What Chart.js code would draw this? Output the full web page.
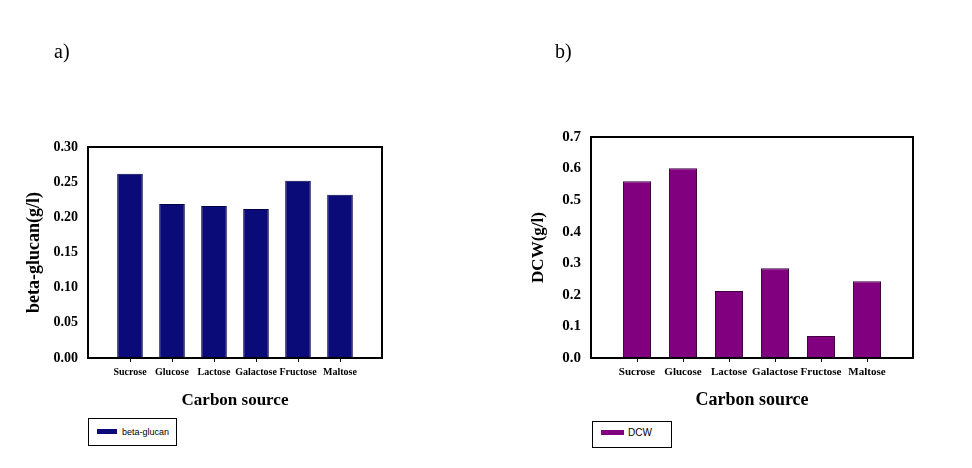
<!DOCTYPE html>
<html lang="en">
<head>
    <meta charset="UTF-8">
    <title>Carbon source: beta-glucan and DCW</title>
    <script src="https://cdn.jsdelivr.net/npm/chart.js"></script>
    <style>
        body { margin: 0; background: #fff; }
        .page { position: relative; width: 972px; height: 468px; overflow: hidden; }
        .panel { position: absolute; top: 0; width: 486px; height: 468px; }
        .tag { position: absolute; top: 40px; font: 20px "Liberation Serif", serif; color: #000; }
        .legend { position: absolute; border: 1px solid #000; box-sizing: border-box; background: #fff;
                  font: 9px "Liberation Sans", Arial, sans-serif; color: #000; }
        .legend .sw { position: absolute; height: 5px; }
        .legend span { position: absolute; white-space: nowrap; }
    </style>
</head>
<body>
<div class="page">
    <div class="panel" style="left:0"><canvas id="chartA"></canvas></div>
    <div class="panel" style="left:486px"><canvas id="chartB"></canvas></div>

    <div class="tag" style="left:54px">a)</div>
    <div class="tag" style="left:555px">b)</div>

    <div class="legend" style="left:88px; top:418px; width:89px; height:28px">
        <div class="sw" style="left:8px; top:10px; width:20px; background:#0a0a78"></div>
        <span id="legA" style="left:33px; top:8px"></span>
    </div>
    <div class="legend" style="left:592px; top:421px; width:80px; height:27px; font-size:10px">
        <div class="sw" style="left:8px; top:8px; width:23px; background:#800080"></div>
        <span id="legB" style="left:35px; top:5px"></span>
    </div>
</div>

<script>
    // данные
    const categories = ['Sucrose', 'Glucose', 'Lactose', 'Galactose', 'Fructose', 'Maltose'];
    const betaGlucan = [0.262, 0.219, 0.216, 0.212, 0.252, 0.232];
    const dcw = [0.56, 0.601, 0.212, 0.284, 0.07, 0.243];
    const betaTicks = [0, 0.05, 0.10, 0.15, 0.20, 0.25, 0.30];
    const dcwTicks = [0, 0.1, 0.2, 0.3, 0.4, 0.5, 0.6, 0.7];

    const serif = '"Liberation Serif", "Times New Roman", serif';

    // рамка вокруг области графика
    const boxPlugin = {
        id: 'box',
        afterDraw(chart) {
            const a = chart.chartArea;
            const ctx = chart.ctx;
            ctx.save();
            ctx.strokeStyle = '#000';
            ctx.lineWidth = 2;
            ctx.strokeRect(a.left, a.top, a.right - a.left, a.bottom - a.top);
            ctx.restore();
        }
    };

    function makeChart(id, label, values, ticks, color, edge, o) {
        const ctx = document.getElementById(id).getContext('2d');
        return new Chart(ctx, {
            type: 'bar',
            data: {
                datasets: [{
                    label: label,
                    data: values.map((v, i) => ({ x: i, y: v })),
                    backgroundColor: color,
                    borderColor: edge,
                    borderWidth: 1,
                    categoryPercentage: 1,
                    barPercentage: 0.61
                }]
            },
            options: {
                responsive: true,
                maintainAspectRatio: false,
                animation: false,
                layout: { padding: { left: 0, top: o.top, right: o.right, bottom: 57 } },
                plugins: { legend: { display: false }, tooltip: { enabled: false } },
                scales: {
                    x: {
                        type: 'linear',
                        offset: false,
                        min: -1,
                        max: 6,
                        afterBuildTicks: s => { s.ticks = categories.map((c, i) => ({ value: i })); },
                        afterFit: s => { s.height = 53; },
                        grid: { drawOnChartArea: false, drawTicks: true, tickLength: 4, color: '#000', lineWidth: 1, offset: false },
                        border: { display: false },
                        ticks: {
                            color: '#000',
                            padding: 4,
                            maxRotation: 0,
                            autoSkip: false,
                            font: { family: serif, weight: 'bold', size: o.xSize },
                            callback: v => categories[v] ?? ''
                        },
                        title: {
                            display: true,
                            text: 'Carbon source',
                            color: '#000',
                            padding: { top: 0, bottom: 0 },
                            font: { family: serif, weight: 'bold', size: o.titleSize }
                        }
                    },
                    y: {
                        min: 0,
                        max: ticks[ticks.length - 1],
                        afterBuildTicks: s => { s.ticks = ticks.map(v => ({ value: v })); },
                        afterFit: s => { s.width = o.yWidth; },
                        grid: { display: false, drawTicks: false },
                        border: { display: false },
                        ticks: {
                            color: '#000',
                            padding: 10,
                            font: { family: serif, weight: 'bold', size: o.ySize },
                            callback: v => v.toFixed(o.digits)
                        },
                        title: {
                            display: true,
                            text: o.yTitle,
                            color: '#000',
                            padding: { top: o.yTitlePad, bottom: 0 },
                            font: { family: serif, weight: 'bold', size: o.yTitleSize }
                        }
                    }
                }
            },
            plugins: [boxPlugin]
        });
    }

    makeChart('chartA', 'beta-glucan', betaGlucan, betaTicks, '#0a0a78', '#000046', {
        top: 147, right: 104, yWidth: 88, digits: 2, xSize: 10, ySize: 14, titleSize: 17,
        yTitle: 'beta-glucan(g/l)', yTitleSize: 18, yTitlePad: 24
    });
    makeChart('chartB', 'DCW', dcw, dcwTicks, '#800080', '#3a003a', {
        top: 137, right: 59, yWidth: 105, digits: 1, xSize: 11, ySize: 15, titleSize: 18,
        yTitle: 'DCW(g/l)', yTitleSize: 17, yTitlePad: 42
    });

    document.getElementById('legA').textContent = 'beta-glucan';
    document.getElementById('legB').textContent = 'DCW';
</script>
</body>
</html>
